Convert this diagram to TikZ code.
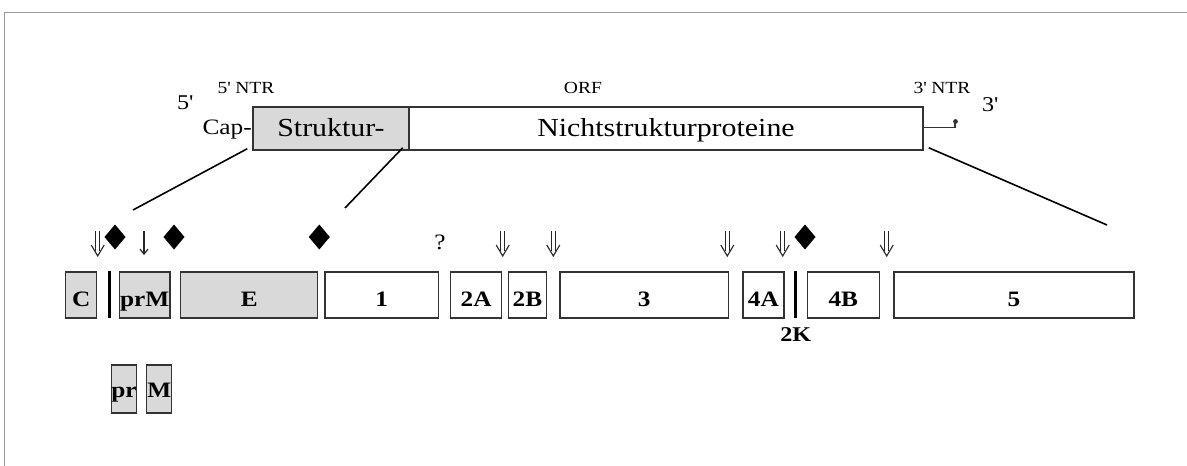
\documentclass[tikz,border=0pt]{standalone}
\usepackage{fontspec}
\setmainfont{Liberation Serif}[FakeStretch=1.15]
\usetikzlibrary{arrows.meta}
\definecolor{boxgray}{HTML}{D9D9D9}
\definecolor{edge}{HTML}{333333}
\definecolor{framegray}{HTML}{9A9A9A}
\newcommand{\q}{\textquotesingle}
\begin{document}
\begin{tikzpicture}[x=1pt,y=-1pt,
  seg/.style={draw=edge, line width=1.5pt, inner sep=0pt, minimum height=46pt,
    font=\fontsize{22}{22}\selectfont\bfseries, text height=22pt, text depth=0pt},
  grayseg/.style={seg, fill=boxgray},
  whiteseg/.style={seg, fill=white},
  subseg/.style={grayseg, minimum height=48pt, text height=16pt},
  topbox/.style={draw=edge, line width=1.5pt, inner sep=0pt, minimum height=43pt,
    font=\fontsize{26}{26}\selectfont, text height=16.4pt, text depth=0pt},
  bar/.style={fill=black, inner sep=0pt, minimum width=3.5pt, minimum height=47pt},
  small/.style={inner sep=0pt, font=\fontsize{17}{17}\selectfont},
  endlab/.style={inner sep=0pt, font=\fontsize{21}{21}\selectfont},
  conn/.style={line width=1.6pt, black},
  shaft/.style={line width=1.1pt, black!85},
  sgl/.style={line width=1.1pt, black!85, -{Straight Barb[length=5pt,width=8pt]}},
]
\useasboundingbox (0,0) rectangle (1187,466);
% frame
\draw[framegray, line width=1.5pt] (4.5,466) -- (4.5,12.5) -- (1187,12.5);

% top genome
\node[topbox, fill=boxgray, minimum width=156pt] (struk) at (331,128.5) {Struktur-};
\node[topbox, fill=white, minimum width=514pt] (nsp) at (666,128.5) {Nichtstrukturproteine};
\node[small] (ntr5) at (246,88) {5\q{} NTR};
\node[small] (orf) at (583,88) {ORF};
\node[small] (ntr3) at (942,88) {3\q{} NTR};
\node[endlab] (five) at (185,103) {5\q};
\node[endlab] (three) at (990,105) {3\q};
\node[inner sep=0pt, anchor=east, font=\fontsize{22}{22}\selectfont] (cap) at (252,130) {Cap-};
\coordinate (tailend) at (955,127.5);
\draw[line width=1.5pt, edge] (nsp.east |- tailend) -- (tailend) -- ++(0,-6);
\fill[edge] (955.5,121.5) circle (2.4pt);

% lower segments
\node[grayseg, minimum width=31pt] (C) at (81.2,295) {C};
\node[bar] (bar1) at (109.3,294.5) {};
\node[grayseg, minimum width=50.7pt] (prM) at (144.7,295) {prM};
\node[grayseg, minimum width=137pt] (E) at (249.2,295) {E};
\node[whiteseg, minimum width=113.3pt] (n1) at (381.7,295) {1};
\node[whiteseg, minimum width=51pt] (n2A) at (476.2,295) {2A};
\node[whiteseg, minimum width=38.4pt] (n2B) at (527.5,295) {2B};
\node[whiteseg, minimum width=168.3pt] (n3) at (644.2,295) {3};
\node[whiteseg, minimum width=41.3pt] (n4A) at (763.4,295) {4A};
\node[bar] (bar2K) at (795.7,294.5) {};
\node[inner sep=0pt, font=\fontsize{21}{21}\selectfont\bfseries, anchor=base] (k2) at (795.7,341.5) {2K};
\node[whiteseg, minimum width=72pt] (n4B) at (843.3,295) {4B};
\node[whiteseg, minimum width=240pt] (n5) at (1014,295) {5};

\node[subseg, minimum width=24.3pt] (pr) at (123.9,389) {pr};
\node[subseg, minimum width=25pt] (M) at (159.2,389) {M};

% zoom lines
\coordinate (z1) at (133,210);
\coordinate (z2) at (345,208);
\coordinate (z3) at (1107,225);
\draw[conn] ([xshift=-5pt,yshift=2pt]struk.south west) -- (z1);
\draw[conn] ([xshift=-7pt,yshift=3pt]struk.south east) -- (z2);
\draw[conn] ([xshift=5pt,yshift=3pt]nsp.south east) -- (z3);

% cleavage markers (double arrows)
\foreach \x in {97.7,502.7,553.3,727.3,782.7,886.7} {
  \draw[shaft] (\x-2,231) -- (\x-2,250.5);
  \draw[shaft] (\x+2,231) -- (\x+2,250.5);
  \draw[shaft, line join=miter] (\x-6.5,245) -- (\x,256) -- (\x+6.5,245);
}
\draw[sgl] (144,231) -- (144,255);
\foreach \x in {115,174,319.3,805}
  \fill (\x,224.5) -- (\x+10.5,237) -- (\x,249.5) -- (\x-10.5,237) -- cycle;
\node[inner sep=0pt, font=\fontsize{22}{22}\selectfont] (q) at (440,242) {?};
\end{tikzpicture}
\end{document}
